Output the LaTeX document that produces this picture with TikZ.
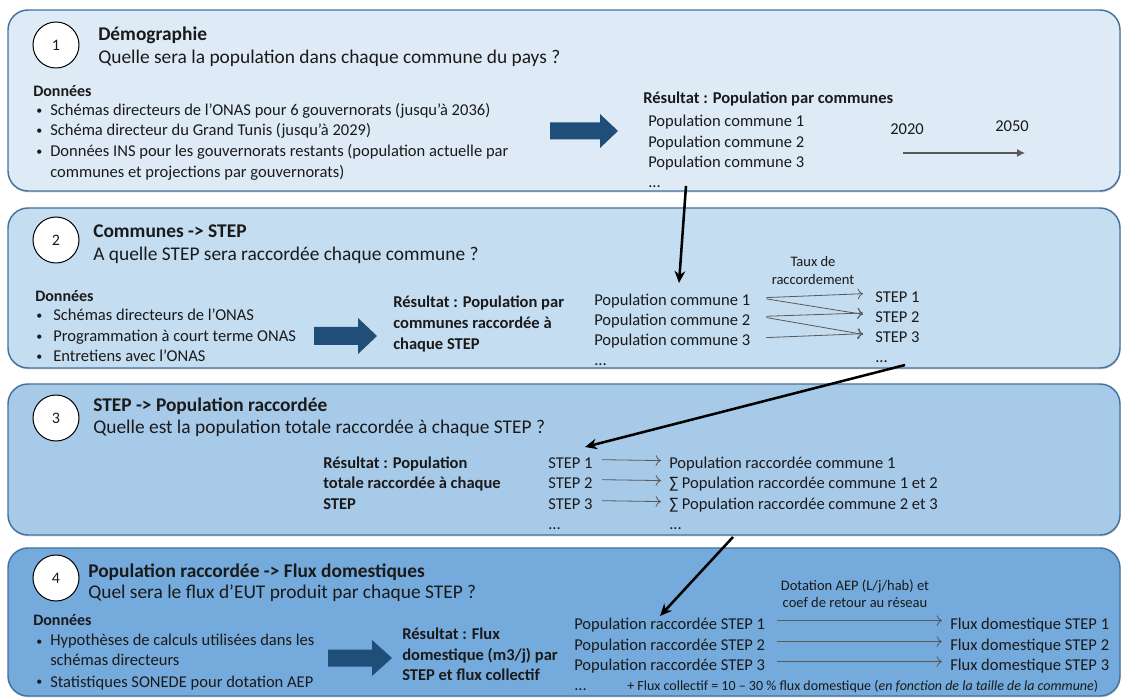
\documentclass[tikz,border=0pt]{standalone}
\usepackage{fontspec}
\setmainfont{Carlito}
\usetikzlibrary{arrows.meta,shadows}
\definecolor{boxA}{RGB}{222,235,247}
\definecolor{boxB}{RGB}{197,221,241}
\definecolor{boxC}{RGB}{168,202,233}
\definecolor{boxD}{RGB}{117,170,220}
\definecolor{boxline}{RGB}{68,114,158}
\definecolor{bigarrow}{RGB}{31,78,121}
\definecolor{txt}{RGB}{26,26,26}
\definecolor{thin}{RGB}{89,89,89}
\tikzset{
  panel/.style={draw=boxline, line width=1.1pt, rounded corners=15pt,
    drop shadow={shadow xshift=0.4pt, shadow yshift=-1.1pt, opacity=0.35}},
  stepnum/.style={circle, draw=black, line width=0.75pt, fill=white, minimum size=34.5pt, inner sep=0pt,
    text=txt, font=\fontsize{12}{14}\selectfont},
  tl/.style={anchor=base west, inner sep=0pt, text=txt, font=\fontsize{14.55}{17}\selectfont\bfseries},
  qs/.style={anchor=base west, inner sep=0pt, text=txt, font=\fontsize{14.55}{17}\selectfont},
  dn/.style={anchor=base west, inner sep=0pt, text=txt, font=\fontsize{12}{14}\selectfont\bfseries},
  bd/.style={anchor=base west, inner sep=0pt, text=txt, font=\fontsize{12.4}{15}\selectfont},
  bl/.style={anchor=base west, inner sep=0pt, text=txt, font=\fontsize{9}{10}\selectfont},
  bb/.style={anchor=base west, inner sep=0pt, text=txt, font=\fontsize{12.4}{15}\selectfont\bfseries},
  sm/.style={anchor=base, inner sep=0pt, text=txt, font=\fontsize{10.9}{13}\selectfont},
  bigarr/.style={fill=bigarrow},
  conn/.style={draw=black, line width=1.9pt, -{Stealth[length=9pt,width=8pt]}},
  maparr/.style={draw=thin, line width=0.6pt, -{To[length=4pt,width=8pt]}},
}
\begin{document}
\begin{tikzpicture}[x=0.75pt,y=-0.75pt]
\useasboundingbox (0,0) rectangle (1122,698);

% panels
\path[panel, fill=boxA] (8,10) rectangle (1120,191);
\path[panel, fill=boxB] (8,208) rectangle (1120,368);
\path[panel, fill=boxC] (8,384) rectangle (1120,535);
\path[panel, fill=boxD] (8,548) rectangle (1120,696);

% ---------- panel 1
\node[stepnum] (n1) at (56,45) {1};
\node[tl] (t1) at (98,41) {Démographie};
\node[qs] (q1) at (98,64) {Quelle sera la population dans chaque commune du pays ?};
\node[dn] (d1) at (33,97) {Données};
\node[bl] (b1a) at (36,115) {•};
\node[bd] (b1at) at (50,116) {Schémas directeurs de l’ONAS pour 6 gouvernorats (jusqu’à 2036)};
\node[bl] (b1b) at (36,135) {•};
\node[bd] (b1bt) at (50,136) {Schéma directeur du Grand Tunis (jusqu’à 2029)};
\node[bl] (b1c) at (36,156) {•};
\node[bd] (b1ct) at (50,157) {Données INS pour les gouvernorats restants (population actuelle par};
\node[bd] (b1dt) at (50,178) {communes et projections par gouvernorats)};
\fill[bigarr] (550,122.5) -- (600,122.5) -- (600,114) -- (618,131) -- (600,148) -- (600,139.5) -- (550,139.5) -- cycle;
\node[bb] (r1) at (643,104) {Résultat : Population par communes};
\node[bd] (p1a) at (648,127) {Population commune 1};
\node[bd] (p1b) at (648,148) {Population commune 2};
\node[bd] (p1c) at (648,168) {Population commune 3};
\node[bd] (p1d) at (648,188) {...};
\node[bd] (y1) at (890,135) {2020};
\node[bd] (y2) at (995,132) {2050};
\coordinate (ya) at (903,153);
\coordinate (yb) at (1025,153);
\draw[draw=thin, line width=0.8pt, -{Latex[length=6pt,width=6pt]}] (ya) -- (yb);

% ---------- panel 2
\node[stepnum] (n2) at (56,240) {2};
\node[tl] (t2) at (93,238) {Communes -> STEP};
\node[qs] (q2) at (93,261) {A quelle STEP sera raccordée chaque commune ?};
\node[dn] (d2) at (35,302) {Données};
\node[bl] (b2a) at (36,320) {•};
\node[bd] (b2at) at (53,321) {Schémas directeurs de l’ONAS};
\node[bl] (b2b) at (36,341) {•};
\node[bd] (b2bt) at (53,342) {Programmation à court terme ONAS};
\node[bl] (b2c) at (36,361) {•};
\node[bd] (b2ct) at (53,362) {Entretiens avec l’ONAS};
\fill[bigarr] (314,327) -- (358,327) -- (358,318) -- (377,336) -- (358,354) -- (358,345) -- (314,345) -- cycle;
\node[bb] (r2a) at (393,308) {Résultat : Population par};
\node[bb] (r2b) at (393,329) {communes raccordée à};
\node[bb] (r2c) at (393,350) {chaque STEP};
\node[bd] (pc1) at (594,306) {Population commune 1};
\node[bd] (pc2) at (594,326) {Population commune 2};
\node[bd] (pc3) at (594,346) {Population commune 3};
\node[bd] (pc4) at (594,366) {...};
\node[sm] (tx1) at (813,267) {Taux de};
\node[sm] (tx2) at (813,285) {raccordement};
\node[bd] (s1) at (875,303) {STEP 1};
\node[bd] (s2) at (875,323) {STEP 2};
\node[bd] (s3) at (875,343) {STEP 3};
\node[bd] (s4) at (875,363) {...};
\draw[maparr] ([xshift=12pt,yshift=3pt]pc1.east) -- ([xshift=-9pt,yshift=3pt]s1.west);
\draw[maparr] ([xshift=12pt,yshift=2pt]pc1.east) -- ([xshift=-9pt,yshift=2.5pt]s2.west);
\draw[maparr] ([xshift=12pt,yshift=4pt]pc2.east) -- ([xshift=-9pt,yshift=3.5pt]s2.west);
\draw[maparr] ([xshift=12pt,yshift=3pt]pc2.east) -- ([xshift=-9pt,yshift=2.5pt]s3.west);
\draw[maparr] ([xshift=12pt,yshift=3pt]pc3.east) -- ([xshift=-9pt,yshift=3pt]s3.west);

% ---------- panel 3
\node[stepnum] (n3) at (56,418) {3};
\node[tl] (t3) at (93,412) {STEP -> Population raccordée};
\node[qs] (q3) at (93,434) {Quelle est la population totale raccordée à chaque STEP ?};
\node[bb] (r3a) at (323,469) {Résultat : Population};
\node[bb] (r3b) at (323,489) {totale raccordée à chaque};
\node[bb] (r3c) at (323,510) {STEP};
\node[bd] (u1) at (548,469) {STEP 1};
\node[bd] (u2) at (548,489) {STEP 2};
\node[bd] (u3) at (548,510) {STEP 3};
\node[bd] (u4) at (548,530) {...};
\node[bd] (v1) at (669,469) {Population raccordée commune 1};
\node[bd] (v2) at (669,489) {∑ Population raccordée commune 1 et 2};
\node[bd] (v3) at (669,510) {∑ Population raccordée commune 2 et 3};
\node[bd] (v4) at (669,530) {...};
\draw[maparr] ([xshift=7pt,yshift=3pt]u1.east) -- ([xshift=-6pt,yshift=3pt]v1.west);
\draw[maparr] ([xshift=7pt,yshift=3pt]u2.east) -- ([xshift=-6pt,yshift=3pt]v2.west);
\draw[maparr] ([xshift=7pt,yshift=3pt]u3.east) -- ([xshift=-6pt,yshift=3pt]v3.west);

% ---------- panel 4
\node[stepnum] (n4) at (56,578) {4};
\node[tl] (t4) at (88,578) {Population raccordée -> Flux domestiques};
\node[qs] (q4) at (88,599) {Quel sera le flux d’EUT produit par chaque STEP ?};
\node[dn] (d4) at (33,625) {Données};
\node[bl] (b4a) at (36,645) {•};
\node[bd] (b4at) at (50,646) {Hypothèses de calculs utilisées dans les};
\node[bd] (b4bt) at (50,666) {schémas directeurs};
\node[bl] (b4c) at (36,686) {•};
\node[bd] (b4ct) at (50,687) {Statistiques SONEDE pour dotation AEP};
\fill[bigarr] (328,649.5) -- (372,649.5) -- (372,640) -- (392,658) -- (372,676) -- (372,666.5) -- (328,666.5) -- cycle;
\node[bb] (r4a) at (402,639) {Résultat : Flux};
\node[bb] (r4b) at (402,660) {domestique (m3/j) par};
\node[bb] (r4c) at (402,681) {STEP et flux collectif};
\node[sm] (dt1) at (855,591) {Dotation AEP (L/j/hab) et};
\node[sm] (dt2) at (855,608) {coef de retour au réseau};
\node[bd] (w1) at (574,629) {Population raccordée STEP 1};
\node[bd] (w2) at (574,650) {Population raccordée STEP 2};
\node[bd] (w3) at (574,670) {Population raccordée STEP 3};
\node[bd] (w4) at (574,690) {...};
\node[bd] (f1) at (950,629) {Flux domestique STEP 1};
\node[bd] (f2) at (950,650) {Flux domestique STEP 2};
\node[bd] (f3) at (950,670) {Flux domestique STEP 3};
\node[sm, anchor=base west, font=\fontsize{10.5}{12}\selectfont] (fc) at (627,691) {+ Flux collectif = 10 – 30 \% flux domestique (\textit{en fonction de la taille de la commune})};
\draw[maparr] ([xshift=9pt,yshift=3pt]w1.east) -- ([xshift=-6pt,yshift=3pt]f1.west);
\draw[maparr] ([xshift=9pt,yshift=3pt]w2.east) -- ([xshift=-6pt,yshift=3pt]f2.west);
\draw[maparr] ([xshift=9pt,yshift=3pt]w3.east) -- ([xshift=-6pt,yshift=3pt]f3.west);

% ---------- connectors between panels
\coordinate (c1s) at (686,186);
\coordinate (c1e) at (679,283);
\coordinate (c2s) at (905,365);
\coordinate (c2e) at (585,447);
\coordinate (c3s) at (733,537);
\coordinate (c3e) at (660,616);
\draw[conn] (c1s) -- (c1e);
\draw[conn] (c2s) -- (c2e);
\draw[conn] (c3s) -- (c3e);
\end{tikzpicture}
\end{document}
